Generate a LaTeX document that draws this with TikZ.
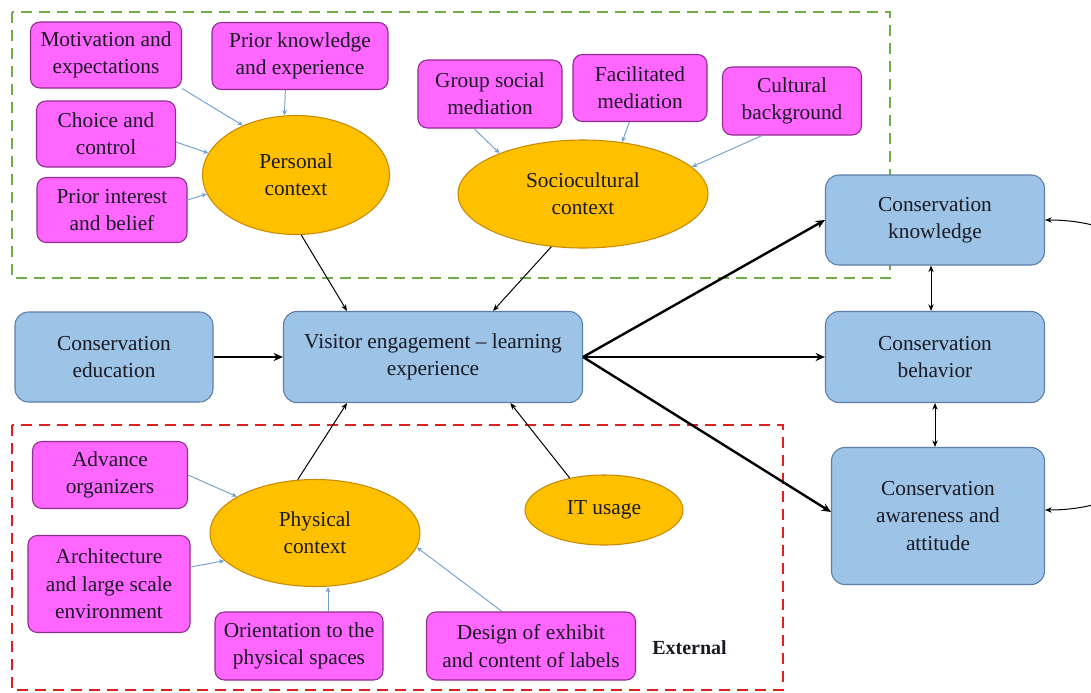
\documentclass[tikz,border=0pt]{standalone}
\usepackage{fontspec}
\setmainfont{Liberation Serif}
\usetikzlibrary{arrows.meta,shapes.geometric}
\definecolor{boxmag}{HTML}{FF66FF}
\definecolor{magedge}{HTML}{8E2E8E}
\definecolor{boxblue}{HTML}{9DC3E6}
\definecolor{blueedge}{HTML}{5B7FAA}
\definecolor{ellfill}{HTML}{FFC000}
\definecolor{elledge}{HTML}{C98A00}
\definecolor{frgreen}{HTML}{70AD47}
\definecolor{frred}{HTML}{E02020}
\definecolor{feedblue}{HTML}{6FA0D0}
\definecolor{txt}{HTML}{1A1A24}
\tikzset{
  sz/.style 2 args={minimum width={#1*0.75pt},minimum height={#2*0.75pt}},
  basefont/.style={font=\fontsize{16}{20.5}\selectfont, text=txt, align=center, inner sep=0pt},
  factor/.style={basefont, draw=magedge, fill=boxmag, rounded corners=7pt, line width=0.8pt},
  outcome/.style={basefont, draw=blueedge, fill=boxblue, rounded corners=10pt, line width=0.8pt},
  context/.style={basefont, ellipse, draw=elledge, fill=ellfill, line width=0.8pt},
  feed/.style={draw=feedblue, line width=0.7pt, -{Stealth[length=4pt,width=3.5pt]}},
  link/.style={draw=black, line width=0.75pt, -{Stealth[length=5pt,width=4pt]}},
  twoway/.style={draw=black, line width=0.75pt, {Stealth[length=5pt,width=4pt]}-{Stealth[length=5pt,width=4pt]}},
  strong/.style={draw=black, line width=1.8pt, -{Stealth[length=7pt,width=6pt]}},
  frame/.style={line width=1.6pt, dash pattern=on 8.5pt off 5pt},
}
\begin{document}
\begin{tikzpicture}[x=0.75pt,y=-0.75pt]
\clip (0,0) rectangle (1091,692);
\fill[white] (0,0) rectangle (1091,692);

% group frames
\draw[frame, frgreen] (12,12) rectangle (890,278);
\draw[frame, frred] (12,425) rectangle (783,690);

% personal context
\node[factor, sz={151}{66}] (mot) at (106,55) {Motivation and\\expectations};
\node[factor, sz={176}{67}] (pk) at (300,56) {Prior knowledge\\and experience};
\node[factor, sz={139}{66}] (cc) at (106,134) {Choice and\\control};
\node[factor, sz={150}{65}] (pib) at (112,210) {Prior interest\\and belief};
\node[context, sz={187}{119}] (pers) at (296,175) {Personal\\context};

% sociocultural context
\node[factor, sz={144}{68}] (gsm) at (490,94) {Group social\\mediation};
\node[factor, sz={134}{67}] (fm) at (640,88) {Facilitated\\mediation};
\node[factor, sz={139}{68}] (cb) at (792,101) {Cultural\\background};
\node[context, sz={250}{108}] (soc) at (583,194) {Sociocultural\\context};

% central row
\node[outcome, sz={198}{90}] (edu) at (114,357) {Conservation\\education};
\node[outcome, sz={299}{91}] (vis) at (433,357) {Visitor engagement – learning\\experience};

% outcomes
\node[outcome, sz={219}{90}] (kn) at (935,220) {Conservation\\knowledge};
\node[outcome, sz={219}{91}] (beh) at (935,357) {Conservation\\behavior};
\node[outcome, sz={213}{137}] (aw) at (938,516) {Conservation\\awareness and\\attitude};

% physical context
\node[factor, sz={155}{67}] (adv) at (110,475) {Advance\\organizers};
\node[context, sz={210}{107}] (phys) at (315,533) {Physical\\context};
\node[context, sz={158}{70}] (it) at (604,510) {IT usage};
\node[factor, sz={162}{97}] (arch) at (109,584) {Architecture\\and large scale\\environment};
\node[factor, sz={168}{68}] (ori) at (299,646) {Orientation to the\\physical spaces};
\node[factor, sz={209}{68}] (des) at (531,646) {Design of exhibit\\and content of labels};
\node[basefont, font=\fontsize{15}{18}\selectfont\bfseries, anchor=west] (ext) at (652,648) {External};

% factors feeding the contexts
\draw[feed] (mot.south east) -- (pers.137);
\draw[feed] ([xshift=-11pt]pk.south) -- (pers.101);
\draw[feed] ([yshift=-6pt]cc.east) -- (pers.166);
\draw[feed] ([yshift=7.5pt]pib.east) -- (pers.192);
\draw[feed] ([xshift=-12pt]gsm.south) -- (soc.154);
\draw[feed] ([xshift=-8pt]fm.south) -- (soc.53);
\draw[feed] ([xshift=-22.5pt]cb.south) -- (soc.14);
\draw[feed] (adv.east) -- (phys.155);
\draw[feed] ([yshift=12.75pt]arch.east) -- (phys.197);
\draw[feed] ([xshift=21.75pt]ori.north) -- ([xshift=21.75pt]ori.north |- phys.south);
\draw[feed] ([xshift=-21.75pt]des.north) -- (phys.352);

% contexts into the learning experience
\draw[link] (pers.-85) -- ([xshift=-64.5pt]vis.north);
\draw[link] (soc.239) -- ([xshift=45pt]vis.north);
\draw[link] (phys.108) -- ([xshift=-64.5pt]vis.south);
\draw[link] (it.137) -- ([xshift=58pt]vis.south);
\draw[strong] (edu.east) -- (vis.west);

% learning experience into the outcomes
\draw[strong] (vis.east) -- (kn.west);
\draw[strong] (vis.east) -- (beh.west);
\draw[strong] (vis.east) -- ([yshift=3pt]aw.west);

% links between outcomes
\draw[twoway] ([xshift=-3pt]kn.south) -- ([xshift=-3pt]kn.south |- beh.north);
\draw[twoway] (beh.south) -- (beh.south |- aw.north);
\draw[twoway] (kn.east) .. controls (1250,220) and (1250,510) .. ([yshift=4.5pt]aw.east);
\end{tikzpicture}
\end{document}
